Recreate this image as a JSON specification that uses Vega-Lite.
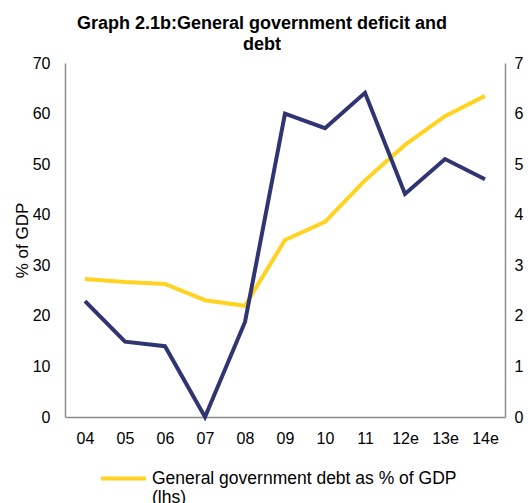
{
  "$schema": "https://vega.github.io/schema/vega-lite/v6.json",
  "width": 440,
  "height": 354,
  "autosize": {"type": "none"},
  "padding": {"left": 65, "top": 63, "right": 26, "bottom": 86},
  "background": "white",
  "config": {
    "font": "Liberation Sans",
    "view": {"stroke": null},
    "axis": {"grid": false, "ticks": false, "domainColor": "#8c8c8c", "domainWidth": 1.5, "labelColor": "#000000", "labelFontSize": 16, "labelFont": "Liberation Sans", "titleFont": "Liberation Sans", "titleFontWeight": "normal", "titleColor": "#000000"}
  },
  "title": {
    "text": ["Graph 2.1b:General government deficit and", "debt"],
    "fontSize": 18,
    "fontWeight": "bold",
    "font": "Liberation Sans",
    "color": "#000000",
    "anchor": "middle",
    "dx": -23,
    "offset": 1,
    "lineHeight": 21
  },
  "data": {
    "values": [
      {"year": "04", "series": "General government debt as % of GDP (lhs)", "value": 27.3},
      {"year": "05", "series": "General government debt as % of GDP (lhs)", "value": 26.7},
      {"year": "06", "series": "General government debt as % of GDP (lhs)", "value": 26.3},
      {"year": "07", "series": "General government debt as % of GDP (lhs)", "value": 23.1},
      {"year": "08", "series": "General government debt as % of GDP (lhs)", "value": 22.0},
      {"year": "09", "series": "General government debt as % of GDP (lhs)", "value": 35.0},
      {"year": "10", "series": "General government debt as % of GDP (lhs)", "value": 38.6},
      {"year": "11", "series": "General government debt as % of GDP (lhs)", "value": 46.8},
      {"year": "12e", "series": "General government debt as % of GDP (lhs)", "value": 53.8},
      {"year": "13e", "series": "General government debt as % of GDP (lhs)", "value": 59.5},
      {"year": "14e", "series": "General government debt as % of GDP (lhs)", "value": 63.5},
      {"year": "04", "series": "General government deficit as % of GDP (rhs)", "value": 2.29},
      {"year": "05", "series": "General government deficit as % of GDP (rhs)", "value": 1.49},
      {"year": "06", "series": "General government deficit as % of GDP (rhs)", "value": 1.40},
      {"year": "07", "series": "General government deficit as % of GDP (rhs)", "value": 0.0},
      {"year": "08", "series": "General government deficit as % of GDP (rhs)", "value": 1.88},
      {"year": "09", "series": "General government deficit as % of GDP (rhs)", "value": 6.0},
      {"year": "10", "series": "General government deficit as % of GDP (rhs)", "value": 5.71},
      {"year": "11", "series": "General government deficit as % of GDP (rhs)", "value": 6.41},
      {"year": "12e", "series": "General government deficit as % of GDP (rhs)", "value": 4.41},
      {"year": "13e", "series": "General government deficit as % of GDP (rhs)", "value": 5.1},
      {"year": "14e", "series": "General government deficit as % of GDP (rhs)", "value": 4.7}
    ]
  },
  "encoding": {
    "x": {
      "field": "year",
      "type": "ordinal",
      "sort": null,
      "scale": {"type": "point", "padding": 0.5},
      "axis": {"title": null, "labelAngle": 0, "labelPadding": 13}
    },
    "color": {
      "field": "series",
      "type": "nominal",
      "sort": null,
      "scale": {"domain": ["General government debt as % of GDP (lhs)", "General government deficit as % of GDP (rhs)"], "range": ["#FFD320", "#2E3572"]},
      "legend": {
        "title": null,
        "orient": "none",
        "direction": "vertical",
        "legendX": 34,
        "legendY": 391,
        "padding": 0,
        "symbolType": "stroke",
        "symbolSize": 2025,
        "symbolStrokeWidth": 4,
        "labelFontSize": 17.5,
        "labelFont": "Liberation Sans",
        "labelColor": "#000000",
        "labelLimit": 400,
        "labelOffset": 4,
        "labelExpr": "[slice(datum.label, 0, indexof(datum.label, ' (')), slice(datum.label, indexof(datum.label, ' (') + 1)]"
      }
    }
  },
  "layer": [
    {
      "transform": [{"filter": "datum.series == 'General government debt as % of GDP (lhs)'"}],
      "mark": {"type": "line", "strokeWidth": 4, "strokeJoin": "miter"},
      "encoding": {
        "y": {
          "field": "value",
          "type": "quantitative",
          "scale": {"domain": [0, 70], "nice": false},
          "axis": {"title": "% of GDP", "titleFontSize": 17, "titlePadding": 1, "values": [0, 10, 20, 30, 40, 50, 60, 70], "labelPadding": 15, "orient": "left"}
        }
      }
    },
    {
      "transform": [{"filter": "datum.series == 'General government deficit as % of GDP (rhs)'"}],
      "mark": {"type": "line", "strokeWidth": 4, "strokeJoin": "miter"},
      "encoding": {
        "y": {
          "field": "value",
          "type": "quantitative",
          "scale": {"domain": [0, 7], "nice": false},
          "axis": {"title": null, "values": [0, 1, 2, 3, 4, 5, 6, 7], "labelPadding": 9, "orient": "right"}
        }
      }
    }
  ],
  "resolve": {"scale": {"y": "independent"}}
}
